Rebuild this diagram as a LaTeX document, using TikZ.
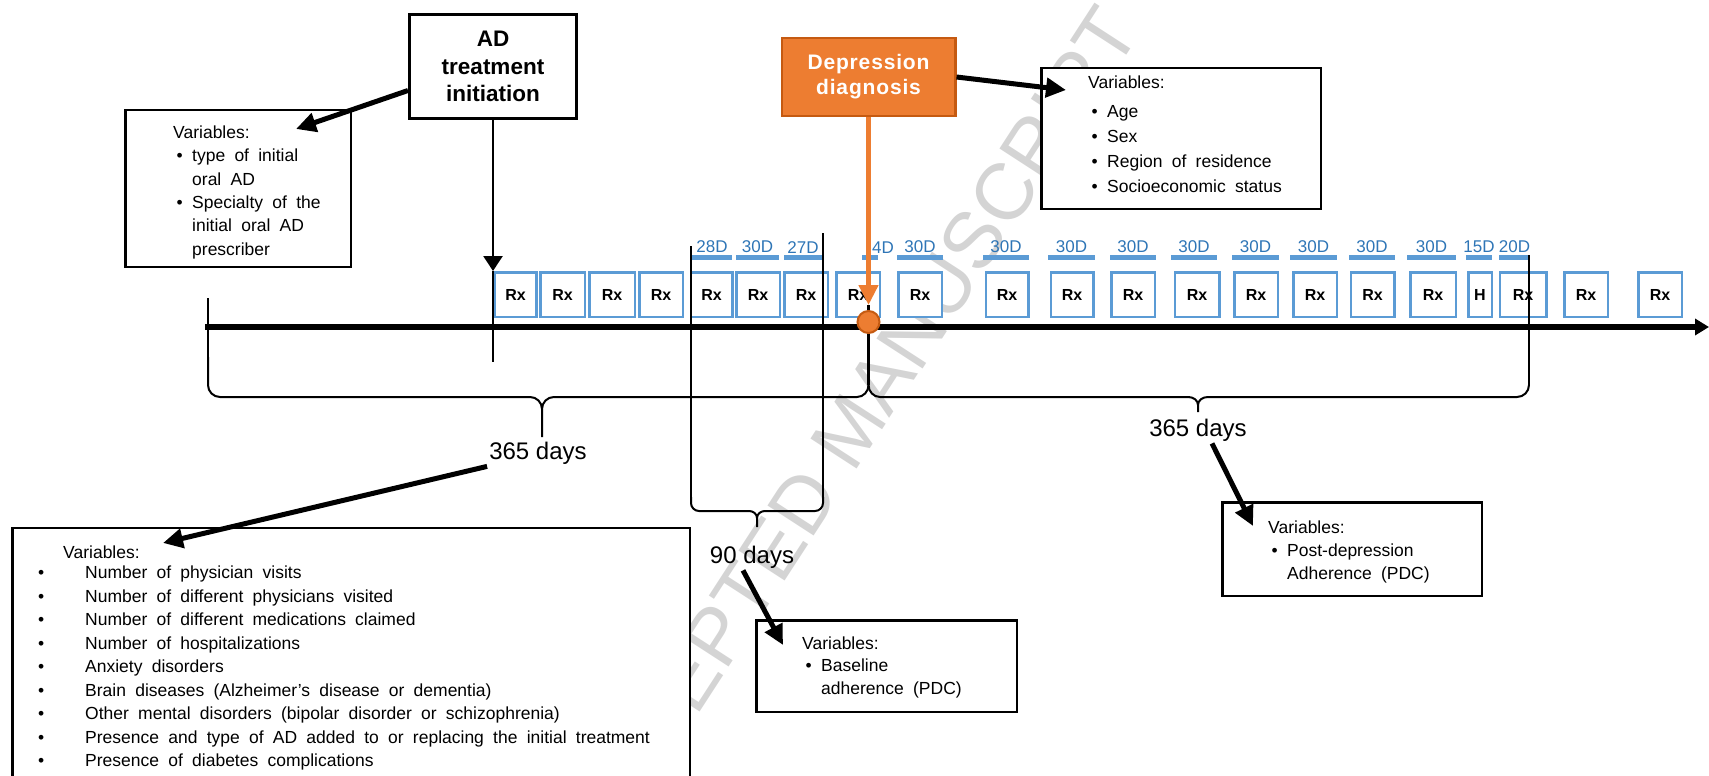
\documentclass[tikz,border=0pt]{standalone}
\usepackage{fontspec}
\setmainfont{Liberation Sans}
\newfontfamily\varfont[WordSpace=1.9]{Liberation Sans}
\newfontfamily\headfont[LetterSpace=4]{Liberation Sans}
\usetikzlibrary{arrows.meta,positioning}

\definecolor{rxblue}{HTML}{5B9BD5}
\definecolor{durblue}{HTML}{2E75B6}
\definecolor{deporange}{HTML}{ED7D31}
\definecolor{depborder}{HTML}{C55A11}

\newcommand{\vbul}{\hspace*{3.5pt}\makebox[15.5pt][l]{\textbullet}}
\newcommand{\vind}{\hspace*{19pt}}
\newcommand{\vbigbul}{\makebox[47pt][l]{\textbullet}}

\begin{document}
\begin{tikzpicture}[x=1pt,y=-1pt]

\useasboundingbox (0,0) rectangle (1709,776);

\tikzstyle{varbox}=[rectangle,draw=black,line width=2.5pt,fill=white,inner sep=0pt]
\tikzstyle{vartext}=[anchor=north west,inner sep=0pt,align=left,font=\varfont\fontsize{17.5}{23.4}\selectfont]
\tikzstyle{rxbox}=[rectangle,draw=rxblue,line width=2.5pt,fill=white,minimum height=44.5pt,inner sep=0pt,font=\fontsize{16}{19}\selectfont\bfseries]
\tikzstyle{durbar}=[rectangle,fill=rxblue,minimum height=5pt,inner sep=0pt]
\tikzstyle{durtext}=[inner sep=0pt,text=durblue,font=\fontsize{17}{20}\selectfont]
\tikzstyle{bigarrow}=[line width=5pt,-{Triangle[length=20pt,width=19pt]}]
\tikzstyle{tick}=[line width=2.5pt]
\tikzstyle{brace}=[line width=2pt]
\tikzstyle{dayslabel}=[inner sep=2pt,font=\fontsize{24}{27}\selectfont]

%watermark
\node[rotate=57,text=black!17,font=\fontsize{80}{80}\selectfont] (stamp) at (850,430) {ACCEPTED MANUSCRIPT};

%Main boxes
\node[varbox,line width=3pt,minimum width=167pt,minimum height=104pt,align=center,font=\fontsize{22.5}{27.5}\selectfont\bfseries] (adInit) at (493,66.5) {AD\\treatment\\initiation};
\node[rectangle,fill=deporange,draw=depborder,line width=2.5pt,minimum width=173.5pt,minimum height=77.5pt,text=white,align=center,font=\headfont\fontsize{21}{25}\selectfont\bfseries] (depDiag) at (868.5,77) {Depression\\diagnosis};

%Variable boxes
\node[varbox,minimum width=225.5pt,minimum height=157pt] (adVars) at (238,188.5) {};
\node[vartext] (adVarsText) at (173,125.5) {Variables:\\ \vbul type of initial\\ \vind oral AD\\ \vbul Specialty of the\\ \vind initial oral AD\\ \vind prescriber};

\node[varbox,minimum width=279.5pt,minimum height=140.5pt] (depVars) at (1181,138.5) {};
\node[vartext,font=\varfont\fontsize{17.5}{25}\selectfont] (depVarsText) at (1088,75.5) {Variables:\\[4pt] \vbul Age\\ \vbul Sex\\ \vbul Region of residence\\ \vbul Socioeconomic status};

\node[varbox,minimum width=677.5pt,minimum height=272pt] (bigVars) at (351,664) {};
\node[vartext,font=\varfont\fontsize{17.5}{23.5}\selectfont] (bigVarsText) at (38,545.5) {\hspace*{25pt}Variables:\\[-3pt]
\vbigbul Number of physician visits\\
\vbigbul Number of different physicians visited\\
\vbigbul Number of different medications claimed\\
\vbigbul Number of hospitalizations\\
\vbigbul Anxiety disorders\\
\vbigbul Brain diseases (Alzheimer’s disease or dementia)\\
\vbigbul Other mental disorders (bipolar disorder or schizophrenia)\\
\vbigbul Presence and type of AD added to or replacing the initial treatment\\
\vbigbul Presence of diabetes complications};

\node[varbox,minimum width=260.5pt,minimum height=91.5pt] (baseVars) at (886.5,666) {};
\node[vartext,font=\varfont\fontsize{17.5}{22.5}\selectfont] (baseVarsText) at (802,636.5) {Variables:\\ \vbul Baseline\\ \vind adherence (PDC)};

\node[varbox,minimum width=259.5pt,minimum height=93.5pt] (postVars) at (1352,549) {};
\node[vartext,font=\varfont\fontsize{17.5}{23}\selectfont] (postVarsText) at (1268,520.5) {Variables:\\ \vbul Post-depression\\ \vind Adherence (PDC)};

%Prescriptions
\node[rxbox,minimum width=41.5pt] (rx1) at (515.5,294.5) {Rx};
\node[rxbox,minimum width=44.5pt] (rx2) at (562.5,294.5) {Rx};
\node[rxbox,minimum width=45.5pt] (rx3) at (612,294.5) {Rx};
\node[rxbox,minimum width=43.5pt] (rx4) at (661,294.5) {Rx};
\node[rxbox,minimum width=41.5pt] (rx5) at (711.5,294.5) {Rx};
\node[rxbox,minimum width=43.5pt] (rx6) at (758,294.5) {Rx};
\node[rxbox,minimum width=43.5pt] (rx7) at (806,294.5) {Rx};
\node[rxbox,minimum width=43.5pt] (rx8) at (858,294.5) {Rx};
\node[rxbox,minimum width=43.5pt] (rx9) at (920,294.5) {Rx};
\node[rxbox,minimum width=42.5pt] (rx10) at (1007,294.5) {Rx};
\node[rxbox,minimum width=42.5pt] (rx11) at (1072,294.5) {Rx};
\node[rxbox,minimum width=43.5pt] (rx12) at (1133,294.5) {Rx};
\node[rxbox,minimum width=44.5pt] (rx13) at (1197,294.5) {Rx};
\node[rxbox,minimum width=43.5pt] (rx14) at (1256,294.5) {Rx};
\node[rxbox,minimum width=43.5pt] (rx15) at (1315,294.5) {Rx};
\node[rxbox,minimum width=43.5pt] (rx16) at (1372.5,294.5) {Rx};
\node[rxbox,minimum width=45.5pt] (rx17) at (1433,294.5) {Rx};
\node[rxbox,minimum width=23.5pt] (hosp) at (1480,294.5) {H};
\node[rxbox,minimum width=46.5pt] (rx18) at (1523,294.5) {Rx};
\node[rxbox,minimum width=43.5pt] (rx19) at (1586,294.5) {Rx};
\node[rxbox,minimum width=43.5pt] (rx20) at (1660,294.5) {Rx};

%Days supplied
\node[durbar,minimum width=40pt] (bar1) at (712,257) {};
\node[durtext,above=1pt of bar1] (dur1) {28D};
\node[durbar,minimum width=43pt] (bar2) at (757.5,257) {};
\node[durtext,above=1pt of bar2] (dur2) {30D};
\node[durbar,minimum width=38pt] (bar3) at (803,257) {};
\node[durtext,above=1pt of bar3] (dur3) {27D};
\node[durbar,minimum width=16pt] (bar4) at (870,257) {};
\node[durtext,anchor=base west] (dur4) at (872,253) {4D};
\node[durbar,minimum width=46pt] (bar5) at (920,257) {};
\node[durtext,above=1pt of bar5] (dur5) {30D};
\node[durbar,minimum width=46pt] (bar6) at (1006,257) {};
\node[durtext,above=1pt of bar6] (dur6) {30D};
\node[durbar,minimum width=47pt] (bar7) at (1071.5,257) {};
\node[durtext,above=1pt of bar7] (dur7) {30D};
\node[durbar,minimum width=46pt] (bar8) at (1133,257) {};
\node[durtext,above=1pt of bar8] (dur8) {30D};
\node[durbar,minimum width=46pt] (bar9) at (1194,257) {};
\node[durtext,above=1pt of bar9] (dur9) {30D};
\node[durbar,minimum width=47pt] (bar10) at (1255.5,257) {};
\node[durtext,above=1pt of bar10] (dur10) {30D};
\node[durbar,minimum width=47pt] (bar11) at (1313.5,257) {};
\node[durtext,above=1pt of bar11] (dur11) {30D};
\node[durbar,minimum width=46pt] (bar12) at (1372,257) {};
\node[durtext,above=1pt of bar12] (dur12) {30D};
\node[durbar,minimum width=49pt] (bar13) at (1431.5,257) {};
\node[durtext,above=1pt of bar13] (dur13) {30D};
\node[durbar,minimum width=26pt] (bar14) at (1479,257) {};
\node[durtext,above=1pt of bar14] (dur14) {15D};
\node[durbar,minimum width=31pt] (bar15) at (1514.5,257) {};
\node[durtext,above=1pt of bar15] (dur15) {20D};

%Time axis
\coordinate (tStart) at (205,327);
\coordinate (tEnd) at (1709,327);
\draw[line width=5.5pt,-{Triangle[length=14pt,width=16pt]}] (tStart) -- (tEnd);

%Period marks and braces
\draw[tick] (208,298) -- (208,357);
\draw[brace] (208,357) -- (208,385) to[out=-90,in=180] (220,397) -- (530,397) to[out=0,in=90] (542,409) -- (542,437);
\draw[brace] (542,409) to[out=90,in=180] (554,397) -- (857,397) to[out=0,in=-90] (868.5,385) -- (868.5,380);
\draw[brace] (868.5,385) to[out=-90,in=180] (880,397) -- (1188,397) to[out=0,in=90] (1198,405) -- (1198,412);
\draw[brace] (1198,405) to[out=90,in=180] (1208,397) -- (1517,397) to[out=0,in=-90] (1529,385);
\draw[tick] (1529,255) -- (1529,385);

\draw[tick] (691,246) -- (691,497);
\draw[tick] (823,233) -- (823,497);
\draw[brace] (691,497) -- (691,503) to[out=-90,in=180] (699,511) -- (749,511) to[out=0,in=90] (757,518) -- (757,527);
\draw[brace] (757,518) to[out=90,in=180] (765,511) -- (815,511) to[out=0,in=-90] (823,503) -- (823,497);

\node[dayslabel] (days1) at (538,453) {365 days};
\node[dayslabel] (days2) at (1198,430) {365 days};
\node[dayslabel] (days90) at (752,557) {90 days};

%AD initiation
\draw[line width=2.5pt,-{Triangle[length=15pt,width=19pt]}] (adInit) -- (adInit |- rx1.north);
\draw[tick] (adInit |- rx1.north) -- (adInit |- tStart) -- ++(0,35);

%Depression point
\draw[tick] (868.5,305) -- (868.5,385);
\node[circle,fill=deporange,draw=depborder,line width=2pt,minimum size=22pt,inner sep=0pt] (depPoint) at (868.5,322) {};
\draw[deporange,line width=4.5pt,-{Triangle[length=20pt,width=19pt]},shorten >=5pt] (depDiag) -- (depPoint);

%Arrows to variables
\coordinate (adVarsIn) at (296,129);
\coordinate (depVarsIn) at (1066,90);
\coordinate (bigVarsIn) at (163,543);
\coordinate (baseVarsIn) at (783,645);
\coordinate (postVarsIn) at (1253,526);

\draw[bigarrow] ([yshift=-24pt]adInit.west) -- (adVarsIn);
\draw[bigarrow] (depDiag.east) -- (depVarsIn);
\draw[bigarrow] (days1.south west) -- (bigVarsIn);
\draw[bigarrow] ([xshift=-9pt]days90.south) -- (baseVarsIn);
\draw[bigarrow] ([xshift=14pt]days2.south) -- (postVarsIn);

\end{tikzpicture}
\end{document}
